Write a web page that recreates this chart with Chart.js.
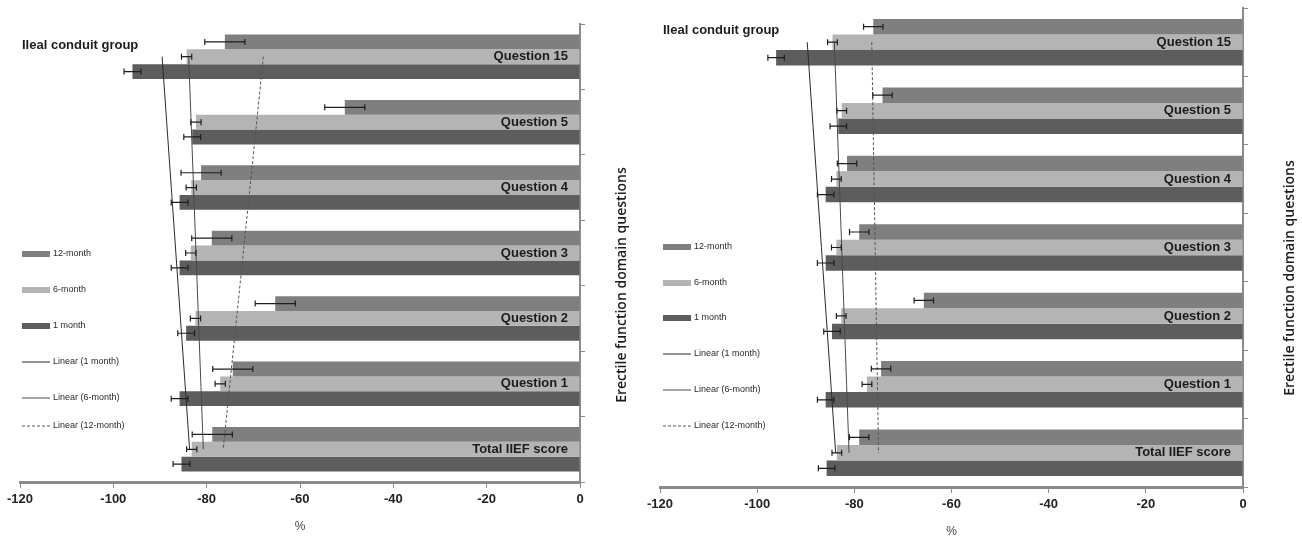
<!DOCTYPE html>
<html>
<head>
<meta charset="utf-8">
<script src="https://cdn.jsdelivr.net/npm/chart.js@4.4.1/dist/chart.umd.min.js"></script>
<style>
  body { margin: 0; background: #fff; }
  canvas { position: absolute; top: 0; }
</style>
</head>
<body>
<canvas id="leftChart" width="640" height="536" style="left:0"></canvas>
<canvas id="rightChart" width="662" height="536" style="left:640px"></canvas>
<script>
// categories, top to bottom
const categories = ['Question 15', 'Question 5', 'Question 4', 'Question 3', 'Question 2', 'Question 1', 'Total IIEF score'];
const seriesNames = ['12-month', '6-month', '1 month'];
const xTicks = [-120, -100, -80, -60, -40, -20, 0];

// left panel (%)
const left12 = [-76.1, -50.4, -81.2, -78.9, -65.3, -74.4, -78.8];
const left6 = [-84.3, -82.3, -83.3, -83.4, -82.4, -77.1, -83.2];
const left1 = [-95.9, -83.1, -85.8, -85.8, -84.4, -85.8, -85.4];
const leftErr12 = [4.3, 4.3, 4.3, 4.3, 4.3, 4.3, 4.3];
const leftErr6 = [1.1, 1.1, 1.1, 1.1, 1.1, 1.1, 1.1];
const leftErr1 = [1.8, 1.8, 1.8, 1.8, 1.8, 1.8, 1.8];

// right panel (%)
const right12 = [-76.1, -74.2, -81.5, -79.0, -65.7, -74.5, -79.0];
const right6 = [-84.5, -82.6, -83.7, -83.7, -82.7, -77.4, -83.6];
const right1 = [-96.1, -83.3, -85.9, -85.9, -84.6, -85.9, -85.7];
const rightErr12 = [2.0, 2.0, 2.0, 2.0, 2.0, 2.0, 2.0];
const rightErr6 = [1.0, 1.0, 1.0, 1.0, 1.0, 1.0, 1.0];
const rightErr1 = [1.7, 1.7, 1.7, 1.7, 1.7, 1.7, 1.7];

const barColors = ['#7f7f7f', '#b4b4b4', '#5d5d5d'];
const FONT = "'Liberation Sans', Arial, sans-serif";

// excel style linear trendline over the category index
function linearTrend(vals) {
  const n = vals.length;
  let mx = 0, my = 0;
  vals.forEach((v, i) => { mx += i; my += v; });
  mx /= n; my /= n;
  let sxy = 0, sxx = 0;
  vals.forEach((v, i) => { sxy += (i - mx) * (v - my); sxx += (i - mx) * (i - mx); });
  const k = sxy / sxx;
  return vals.map((v, i) => my + k * (i - mx));
}

const panelDecor = {
  id: 'panelDecor',
  afterDatasetsDraw(chart, args, opts) {
    const { ctx, chartArea, scales: { x, y } } = chart;
    ctx.save();
    // error bars
    chart.data.datasets.forEach((ds, i) => {
      if (!ds.errors) return;
      const meta = chart.getDatasetMeta(i);
      meta.data.forEach((bar, j) => {
        const x1 = x.getPixelForValue(ds.data[j] - ds.errors[j]);
        const x2 = x.getPixelForValue(ds.data[j] + ds.errors[j]);
        const yy = bar.y;
        ctx.strokeStyle = '#1e1e1e';
        ctx.lineWidth = 1.2;
        ctx.beginPath();
        ctx.moveTo(x1, yy); ctx.lineTo(x2, yy);
        ctx.moveTo(x1, yy - 3); ctx.lineTo(x1, yy + 3);
        ctx.moveTo(x2, yy - 3); ctx.lineTo(x2, yy + 3);
        ctx.stroke();
      });
    });
    // category names inside the bars
    ctx.fillStyle = '#1c1c1c';
    ctx.font = 'bold 13px ' + FONT;
    ctx.textAlign = 'right';
    ctx.textBaseline = 'middle';
    categories.forEach((c, i) => {
      ctx.fillText(c, chartArea.right - 12, y.getPixelForValue(i));
    });
    // group title
    ctx.textAlign = 'left';
    ctx.font = 'bold 13px ' + FONT;
    ctx.fillText(opts.group, opts.legendX, opts.groupY);
    // legend
    ctx.font = '9px ' + FONT;
    chart.data.datasets.forEach((ds, i) => {
      const ly = opts.legendY[i];
      if (ds.type === 'line') {
        ctx.strokeStyle = ds.borderColor;
        ctx.lineWidth = 1;
        ctx.setLineDash(ds.borderDash || []);
        ctx.beginPath();
        ctx.moveTo(opts.legendX, ly); ctx.lineTo(opts.legendX + 28, ly);
        ctx.stroke();
        ctx.setLineDash([]);
      } else {
        ctx.fillStyle = ds.backgroundColor;
        ctx.fillRect(opts.legendX, ly - 3, 28, 6);
      }
      ctx.fillStyle = '#2a2a2a';
      ctx.fillText(ds.label, opts.legendX + 31, ly);
    });
    // axis title on the right, reading upwards
    ctx.save();
    ctx.translate(opts.titleX, opts.titleY);
    ctx.rotate(-Math.PI / 2);
    ctx.textAlign = 'center';
    ctx.fillStyle = '#1c1c1c';
    ctx.font = "600 14px 'Open Sans', sans-serif";
    ctx.fillText('Erectile function domain questions', 0, 0);
    ctx.restore();
    ctx.restore();
  }
};

function makePanel(id, v12, v6, v1, e12, e6, e1, decor, padding) {
  const trendStyle = { type: 'line', pointRadius: 0, borderWidth: 1, fill: false, order: 1 };
  return new Chart(document.getElementById(id), {
    type: 'bar',
    data: {
      labels: categories,
      datasets: [
        { label: seriesNames[0], data: v12, errors: e12, backgroundColor: barColors[0], order: 2 },
        { label: seriesNames[1], data: v6, errors: e6, backgroundColor: barColors[1], order: 2 },
        { label: seriesNames[2], data: v1, errors: e1, backgroundColor: barColors[2], order: 2 },
        Object.assign({ label: 'Linear (1 month)', data: linearTrend(v1), borderColor: '#2a2a2a' }, trendStyle),
        Object.assign({ label: 'Linear (6-month)', data: linearTrend(v6), borderColor: '#4a4a4a' }, trendStyle),
        Object.assign({ label: 'Linear (12-month)', data: linearTrend(v12), borderColor: '#555', borderDash: [3, 2] }, trendStyle)
      ]
    },
    options: {
      indexAxis: 'y',
      responsive: false,
      animation: false,
      categoryPercentage: 0.68,
      barPercentage: 1.0,
      layout: { padding: padding },
      scales: {
        x: {
          min: -120,
          max: 0,
          afterBuildTicks: (s) => { s.ticks = xTicks.map(v => ({ value: v })); },
          ticks: { color: '#222', padding: 4, font: { family: FONT, size: 13, weight: 'bold' } },
          grid: { drawOnChartArea: false, tickLength: 6, color: '#8a8a8a' },
          border: { color: '#8a8a8a', width: 3 },
          title: { display: true, text: '%', color: '#444', padding: { top: 8, bottom: 0 }, font: { family: FONT, size: 12 } }
        },
        y: {
          position: 'right',
          ticks: { display: false },
          grid: { drawOnChartArea: false, tickLength: 5, color: '#8c8c8c', offset: true },
          border: { display: true, color: '#8c8c8c', width: 2 }
        }
      },
      plugins: {
        legend: { display: false },
        tooltip: { enabled: false },
        panelDecor: decor
      }
    },
    plugins: [panelDecor]
  });
}

makePanel('leftChart', left12, left6, left1, leftErr12, leftErr6, leftErr1,
  { group: 'Ileal conduit group', groupY: 45, legendX: 22, legendY: [254, 290, 326, 362, 398, 426], titleX: 622, titleY: 285 },
  { top: 24, left: 20, right: 55, bottom: 2 });

makePanel('rightChart', right12, right6, right1, rightErr12, rightErr6, rightErr1,
  { group: 'Ileal conduit group', groupY: 30, legendX: 23, legendY: [247, 283, 318, 354, 390, 426], titleX: 650, titleY: 278 },
  { top: 8, left: 20, right: 54, bottom: -3 });
</script>
</body>
</html>
